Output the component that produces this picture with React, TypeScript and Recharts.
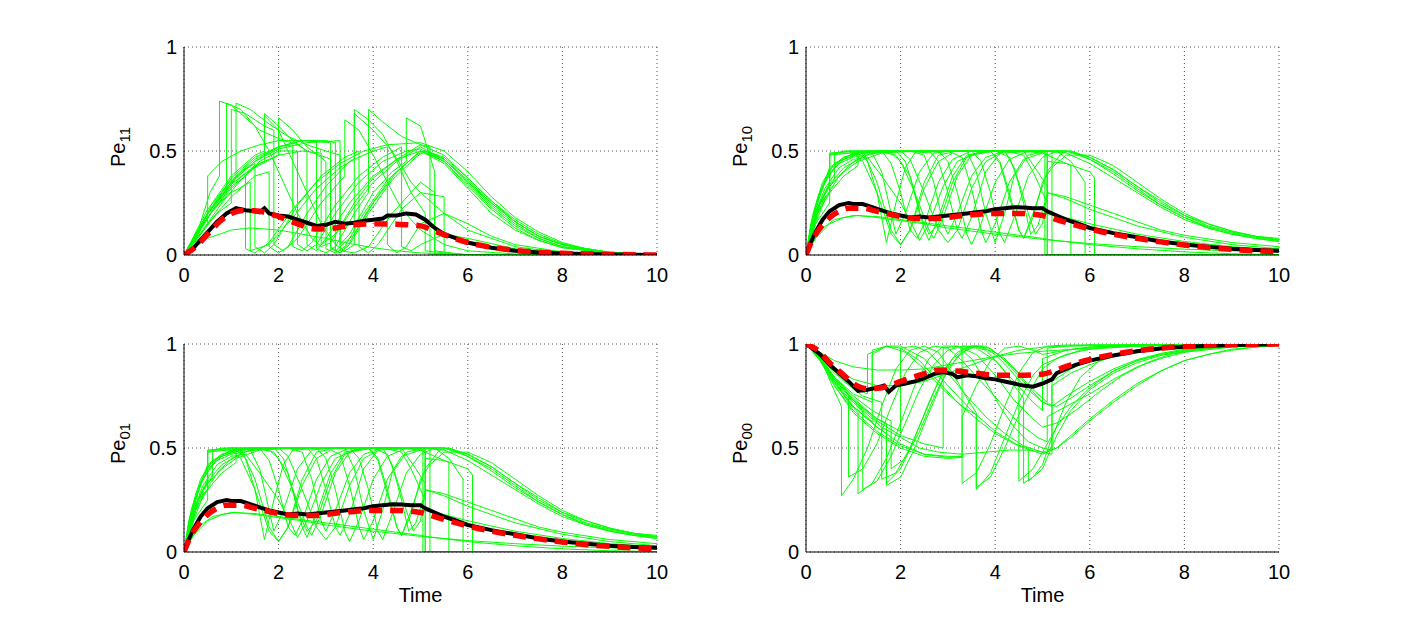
import React from "react";
import { LineChart, Line, XAxis, YAxis, CartesianGrid } from "recharts";

type Run = [number, number][];

const timeTicks = [0, 2, 4, 6, 8, 10];
const probTicks = [0, 0.5, 1];

// sample paths of Pe11
const pe11Runs: Run[] = [
  [[0,0],[0.5,0.2],[1,0.35],[1.5,0.45],[2,0.52],[2.5,0.55],[3,0.55],[3.2,0.54],[3.2,0.02],[3.6,0.1],[4,0.25],[4.5,0.4],[5,0.5],[5.5,0.45],[6,0.33],[6.5,0.22],[7,0.13],[7.5,0.07],[8,0.035],[9,0.008],[10,0]],
  [[0,0],[0.5,0.08],[1,0.12],[1.4,0.13],[2,0.12],[2.5,0.1],[3,0.08],[3.5,0.055],[4,0.035],[4.5,0.02],[5,0.01],[6,0.003],[10,0]],
  [[0,0],[0.3,0.12],[0.55,0.3],[0.75,0.38],[0.75,0.74],[1,0.72],[1.3,0.66],[1.6,0.6],[2,0.56],[2.4,0.53],[2.6,0.5],[2.6,0.05],[2.8,0.02],[3,0.08],[3.5,0.25],[4,0.38],[4.5,0.46],[5,0.5],[5.5,0.44],[6,0.32],[6.5,0.2],[7,0.12],[7.5,0.07],[8,0.035],[9,0.01],[10,0]],
  [[0,0],[0.4,0.15],[0.9,0.3],[0.9,0.73],[1.2,0.7],[1.5,0.62],[1.8,0.5],[2.1,0.35],[2.4,0.2],[2.7,0.08],[2.9,0.04],[3.1,0.06],[3.5,0.2],[4,0.35],[4.5,0.45],[5,0.52],[5.5,0.46],[6,0.35],[6.5,0.24],[7,0.15],[7.5,0.08],[8,0.04],[9,0.01],[10,0]],
  [[0,0],[0.3,0.1],[0.6,0.25],[1,0.38],[1.5,0.48],[1.7,0.5],[1.7,0.67],[2,0.6],[2.3,0.45],[2.6,0.3],[2.9,0.15],[3.2,0.05],[3.4,0.02],[3.6,0.05],[3.6,0.7],[3.9,0.65],[4.2,0.58],[4.5,0.45],[4.8,0.3],[5.1,0.2],[5.1,0.02],[5.5,0.01],[6,0],[10,0]],
  [[0,0],[0.3,0.08],[0.5,0.15],[0.5,0.38],[0.8,0.45],[1.2,0.5],[1.6,0.53],[2,0.55],[2.5,0.55],[3.1,0.54],[3.1,0.04],[3.3,0.01],[3.5,0.05],[3.9,0.2],[4.4,0.36],[4.9,0.47],[5.1,0.5],[5.5,0.47],[6,0.37],[6.5,0.26],[7,0.17],[7.5,0.1],[8,0.055],[8.5,0.028],[9,0.012],[10,0.002]],
  [[0,0],[0.5,0.2],[1,0.3],[1.4,0.35],[1.4,0.02],[1.8,0.05],[2.3,0.18],[2.8,0.32],[3.3,0.42],[3.6,0.46],[3.6,0.68],[4,0.6],[4.4,0.5],[4.8,0.35],[5,0.3],[5.5,0.2],[6,0.12],[7,0.04],[8,0.01],[10,0]],
  [[0,0],[0.5,0.18],[1,0.32],[1.5,0.42],[2,0.48],[2.5,0.5],[2.9,0.49],[2.9,0.05],[3.2,0.1],[3.6,0.25],[4,0.37],[4.5,0.46],[5,0.53],[5.5,0.48],[6,0.37],[6.5,0.26],[7,0.16],[7.5,0.09],[8,0.05],[8.5,0.025],[9,0.01],[10,0.001]],
  [[0,0],[0.4,0.12],[0.8,0.25],[1.2,0.36],[1.6,0.45],[2,0.5],[2.4,0.5],[2.4,0.05],[2.6,0.02],[2.8,0.05],[3.2,0.2],[3.7,0.35],[4.2,0.45],[4.7,0.5],[5,0.51],[5.5,0.45],[6,0.34],[6.5,0.23],[7,0.14],[7.5,0.08],[8,0.04],[9,0.008],[10,0]],
  [[0,0],[0.3,0.1],[0.7,0.25],[1.1,0.37],[1.1,0.73],[1.4,0.7],[1.8,0.63],[2.2,0.57],[2.6,0.53],[3,0.5],[3.3,0.48],[3.3,0.05],[3.5,0.1],[4,0.3],[4.4,0.4],[4.7,0.45],[4.7,0.66],[5,0.62],[5.3,0.4],[5.3,0.02],[6,0],[10,0]],
  [[0,0],[0.5,0.15],[1,0.28],[1.5,0.38],[1.8,0.4],[1.8,0.04],[2,0.01],[2.2,0.04],[2.6,0.2],[3,0.33],[3.5,0.45],[4,0.5],[4.3,0.52],[4.3,0.05],[4.5,0.01],[4.7,0.04],[5,0.15],[5.5,0.2],[6,0.15],[6.5,0.09],[7,0.05],[8,0.015],[9,0.004],[10,0]],
  [[0,0],[0.5,0.2],[1,0.35],[1.5,0.45],[2,0.51],[2.6,0.54],[3.3,0.55],[3.3,0.02],[3.6,0.01],[3.9,0.04],[4.4,0.2],[5,0.35],[5.3,0.3],[5.3,0],[10,0]],
  [[0,0],[0.5,0.22],[1,0.36],[1.5,0.46],[2,0.52],[2.5,0.55],[2.8,0.55],[2.8,0.03],[3,0.01],[3.2,0.04],[3.6,0.2],[3.9,0.3],[3.9,0.7],[4.2,0.64],[4.6,0.57],[5,0.53],[5.2,0.52],[5.2,0],[10,0]],
  [[0,0],[0.5,0.2],[1,0.37],[1.5,0.47],[2,0.52],[2.3,0.53],[2.3,0.04],[2.5,0.02],[2.7,0.06],[3.2,0.24],[3.7,0.38],[4.2,0.47],[4.6,0.52],[4.6,0.04],[4.8,0.02],[5,0.05],[5.5,0.1],[6,0.08],[7,0.03],[8,0.01],[10,0]],
  [[0,0],[0.7,0.2],[1,0.25],[1,0.7],[1.3,0.68],[1.7,0.62],[1.9,0.6],[1.9,0.05],[2.1,0.02],[2.4,0.08],[2.9,0.25],[3.4,0.38],[3.4,0.65],[3.7,0.6],[4,0.48],[4.3,0.35],[4.6,0.22],[5,0.12],[5.5,0.05],[6,0.02],[7,0.005],[10,0]],
  [[0,0],[0.5,0.2],[1,0.34],[1.6,0.44],[2,0.48],[2,0.66],[2.3,0.6],[2.6,0.52],[3,0.45],[3,0.03],[3.2,0.01],[3.4,0.04],[3.8,0.2],[4.3,0.36],[4.8,0.46],[5,0.5],[5.5,0.46],[6,0.35],[6.5,0.25],[7,0.16],[7.5,0.09],[8,0.05],[9,0.012],[10,0]],
  [[0,0],[0.5,0.18],[1,0.33],[1.3,0.38],[1.3,0.03],[1.5,0.01],[1.8,0.06],[2.3,0.22],[2.8,0.35],[3.3,0.44],[3.8,0.5],[4.3,0.53],[5,0.54],[5.5,0.5],[6,0.4],[6.5,0.28],[7,0.18],[7.5,0.11],[8,0.06],[8.5,0.03],[9,0.014],[10,0.002]],
  [[0,0],[0.5,0.2],[1,0.34],[1.5,0.43],[1.7,0.45],[1.7,0.68],[2,0.62],[2.3,0.55],[2.6,0.5],[3,0.47],[3.1,0.46],[3.1,0.03],[3.3,0.01],[3.5,0.06],[3.9,0.22],[4.4,0.38],[4.9,0.48],[5.1,0.5],[5.5,0.46],[6,0.36],[6.5,0.25],[7,0.16],[7.5,0.09],[8,0.05],[9,0.012],[10,0]],
  [[0,0],[0.4,0.16],[0.8,0.3],[1.2,0.4],[1.5,0.44],[1.5,0.04],[1.7,0.01],[1.9,0.05],[2.4,0.24],[2.9,0.38],[3.4,0.47],[3.7,0.5],[3.7,0.04],[3.9,0.01],[4.1,0.05],[4.6,0.22],[5,0.3],[5.5,0.28],[5.5,0],[10,0]],
];

const pe11Mean: Run = [[0,0],[0.15,0.02],[0.3,0.06],[0.5,0.11],[0.7,0.16],[0.9,0.2],[1.1,0.225],[1.3,0.215],[1.5,0.21],[1.6,0.205],[1.7,0.225],[1.8,0.2],[2,0.19],[2.2,0.185],[2.4,0.17],[2.6,0.155],[2.8,0.14],[3,0.145],[3.2,0.16],[3.4,0.15],[3.6,0.155],[3.8,0.165],[4,0.17],[4.2,0.175],[4.3,0.19],[4.5,0.19],[4.7,0.2],[4.9,0.195],[5.1,0.17],[5.3,0.13],[5.5,0.1],[5.7,0.085],[6,0.06],[6.5,0.035],[7,0.02],[7.5,0.012],[8,0.007],[9,0.002],[10,0]];
const pe11Exact: Run = [[0,0],[0.25,0.04],[0.5,0.1],[0.75,0.16],[1,0.2],[1.3,0.215],[1.6,0.21],[2,0.185],[2.4,0.15],[2.8,0.125],[3.2,0.13],[3.6,0.145],[4,0.15],[4.5,0.148],[5,0.14],[5.3,0.115],[5.6,0.09],[6,0.06],[6.5,0.037],[7,0.022],[7.5,0.013],[8,0.008],[9,0.003],[10,0]];

// sample paths of Pe10 (Pe01 behaves the same)
const pe10Runs: Run[] = [
  [[0,0],[0.2,0.08],[0.5,0.15],[0.8,0.18],[1.1,0.19],[1.5,0.18],[2,0.165],[2.5,0.15],[3,0.13],[3.5,0.115],[4,0.1],[4.5,0.088],[5,0.075],[6,0.055],[7,0.04],[8,0.028],[9,0.02],[10,0.014]],
  [[0,0],[0.3,0.12],[0.6,0.17],[1,0.19],[1.5,0.185],[2,0.17],[3,0.14],[4,0.11],[5,0.08],[5.1,0.075],[6,0.05],[7,0.03],[8,0.015],[9,0.006],[10,0.002]],
  [[0,0],[0.1,0.12],[0.2,0.22],[0.3,0.3],[0.5,0.39],[0.7,0.44],[1,0.47],[1.5,0.49],[2,0.5],[5.5,0.5],[6,0.47],[6.5,0.41],[7,0.33],[7.5,0.25],[8,0.19],[8.5,0.14],[9,0.11],[9.5,0.09],[10,0.08]],
  [[0,0],[0.2,0.15],[0.5,0.25],[0.5,0.49],[1,0.5],[1.2,0.5],[1.5,0.35],[1.8,0.12],[2,0.05],[2.2,0.12],[2.5,0.35],[2.8,0.48],[3.2,0.5],[4.6,0.5],[4.9,0.4],[5.1,0.33],[5.1,0],[10,0]],
  [[0,0],[0.15,0.15],[0.3,0.3],[0.5,0.42],[0.8,0.47],[1.1,0.49],[1.3,0.45],[1.5,0.3],[1.7,0.06],[1.9,0.25],[2.1,0.42],[2.3,0.49],[3,0.5],[3.4,0.5],[3.6,0.4],[3.8,0.2],[4,0.06],[4.2,0.2],[4.4,0.38],[4.7,0.48],[5.1,0.5],[5.6,0.5],[6,0.46],[6.5,0.4],[7,0.32],[7.5,0.24],[8,0.18],[8.5,0.135],[9,0.105],[9.5,0.085],[10,0.07]],
  [[0,0],[0.2,0.18],[0.4,0.28],[0.5,0.3],[0.5,0.49],[1,0.49],[1.2,0.45],[1.5,0.3],[1.8,0.1],[2,0.05],[2.2,0.12],[2.5,0.32],[2.8,0.45],[3.1,0.49],[3.3,0.47],[3.5,0.32],[3.7,0.12],[3.8,0.06],[4,0.15],[4.3,0.35],[4.6,0.46],[5,0.49],[5.1,0.49],[5.1,0],[10,0]],
  [[0,0],[0.2,0.2],[0.4,0.32],[0.7,0.42],[1,0.46],[1.3,0.47],[1.6,0.38],[2,0.25],[2.3,0.12],[2.4,0.07],[2.6,0.15],[2.9,0.33],[3.2,0.45],[3.6,0.49],[4,0.5],[4.5,0.5],[5,0.49],[5.6,0.43],[5.6,0],[10,0]],
  [[0,0],[0.1,0.1],[0.3,0.25],[0.5,0.33],[0.8,0.4],[1.1,0.45],[1.6,0.49],[2.2,0.5],[2.5,0.48],[2.7,0.35],[2.9,0.15],[3,0.1],[3.2,0.2],[3.5,0.38],[3.8,0.47],[4.2,0.5],[5.5,0.5],[6,0.46],[6.5,0.39],[7,0.31],[7.5,0.24],[8,0.18],[8.5,0.13],[9,0.1],[9.5,0.08],[10,0.065]],
  [[0,0],[0.2,0.2],[0.5,0.35],[0.5,0.48],[0.9,0.49],[1.3,0.5],[1.8,0.49],[2,0.45],[2.3,0.3],[2.6,0.12],[2.7,0.08],[2.9,0.18],[3.2,0.38],[3.5,0.48],[4,0.5],[4.3,0.47],[4.5,0.35],[4.7,0.2],[4.85,0.1],[5,0.15],[5.1,0.3],[5.5,0.27],[6,0.22],[6.5,0.18],[7,0.14],[8,0.085],[9,0.05],[10,0.03]],
  [[0,0],[0.15,0.2],[0.35,0.35],[0.6,0.44],[1,0.48],[1.5,0.5],[2.8,0.5],[3,0.45],[3.2,0.3],[3.4,0.1],[3.5,0.05],[3.7,0.15],[4,0.35],[4.3,0.46],[4.7,0.5],[5.2,0.5],[5.2,0],[10,0]],
  [[0,0],[0.25,0.2],[0.5,0.3],[0.8,0.38],[1.1,0.43],[1.1,0.49],[1.5,0.5],[1.9,0.48],[2.2,0.38],[2.4,0.2],[2.6,0.1],[2.8,0.15],[3.1,0.35],[3.4,0.47],[3.8,0.5],[5.05,0.5],[5.05,0.2],[5.5,0.18],[6,0.15],[7,0.1],[8,0.065],[9,0.04],[10,0.025]],
  [[0,0],[0.2,0.22],[0.4,0.35],[0.7,0.45],[1,0.49],[1.4,0.5],[3.5,0.5],[3.7,0.45],[3.9,0.3],[4.1,0.1],[4.2,0.06],[4.4,0.18],[4.7,0.38],[5,0.47],[5.3,0.5],[5.6,0.45],[5.9,0.35],[5.9,0],[10,0]],
  [[0,0],[0.3,0.25],[0.5,0.3],[0.5,0.48],[0.8,0.5],[2,0.5],[2.2,0.46],[2.5,0.3],[2.8,0.12],[3,0.06],[3.2,0.12],[3.5,0.32],[3.8,0.45],[4.2,0.5],[4.6,0.48],[4.8,0.4],[5,0.3],[5.1,0.25],[5.1,0.45],[5.5,0.44],[6,0.4],[6.1,0.37],[6.1,0],[10,0]],
  [[0,0],[0.2,0.15],[0.4,0.27],[0.7,0.38],[1,0.45],[1.4,0.49],[1.6,0.5],[1.8,0.44],[2,0.3],[2.2,0.12],[2.35,0.08],[2.5,0.15],[2.8,0.35],[3.1,0.46],[3.5,0.5],[5.1,0.5],[5.1,0.3],[5.5,0.28],[6,0.24],[6.5,0.2],[7,0.16],[7.5,0.12],[8,0.095],[9,0.06],[10,0.04]],
  [[0,0],[0.1,0.15],[0.3,0.3],[0.5,0.4],[0.8,0.46],[1.2,0.49],[1.6,0.5],[3.9,0.5],[4.1,0.45],[4.3,0.3],[4.5,0.12],[4.6,0.08],[4.8,0.18],[5,0.35],[5.2,0.42],[5.5,0.48],[6,0.48],[6.5,0.43],[7,0.35],[7.5,0.27],[8,0.2],[8.5,0.15],[9,0.115],[9.5,0.09],[10,0.075]],
  [[0,0],[0.2,0.2],[0.5,0.34],[0.8,0.42],[1.2,0.47],[1.2,0.49],[2.6,0.5],[2.8,0.45],[3,0.3],[3.2,0.12],[3.3,0.08],[3.5,0.18],[3.8,0.4],[4.1,0.49],[5,0.5],[5.5,0.49],[6,0.44],[6.5,0.37],[7,0.3],[7.5,0.23],[8,0.17],[8.5,0.13],[9,0.1],[9.5,0.08],[10,0.065]],
  [[0,0],[0.1,0.14],[0.25,0.28],[0.5,0.41],[0.8,0.47],[1.2,0.5],[1.9,0.5],[2.1,0.45],[2.3,0.3],[2.5,0.12],[2.6,0.07],[2.8,0.18],[3.1,0.38],[3.4,0.48],[3.8,0.5],[4.2,0.5],[4.4,0.42],[4.6,0.25],[4.75,0.1],[4.9,0.14],[5.05,0.25],[5.05,0],[10,0]],
  [[0,0],[0.2,0.2],[0.4,0.3],[0.6,0.36],[0.6,0.49],[1,0.5],[1.4,0.49],[1.6,0.4],[1.8,0.2],[1.9,0.1],[2.1,0.2],[2.4,0.4],[2.7,0.49],[3.1,0.5],[3.9,0.5],[4.1,0.44],[4.3,0.28],[4.5,0.12],[4.6,0.08],[4.8,0.2],[5.1,0.4],[5.4,0.49],[5.6,0.5],[6,0.47],[6.5,0.41],[7,0.33],[7.5,0.26],[8,0.19],[8.5,0.15],[9,0.115],[9.5,0.09],[10,0.072]],
];

const pe10Mean: Run = [[0,0],[0.1,0.06],[0.2,0.11],[0.35,0.17],[0.5,0.21],[0.7,0.24],[0.9,0.25],[1,0.245],[1.2,0.245],[1.4,0.23],[1.6,0.215],[1.8,0.2],[2,0.19],[2.2,0.18],[2.4,0.185],[2.6,0.18],[2.8,0.185],[3,0.19],[3.2,0.195],[3.4,0.2],[3.6,0.205],[3.8,0.21],[4,0.22],[4.2,0.225],[4.4,0.23],[4.6,0.228],[4.8,0.225],[5,0.225],[5.1,0.21],[5.3,0.19],[5.5,0.17],[5.7,0.155],[6,0.13],[6.5,0.105],[7,0.085],[7.5,0.065],[8,0.05],[8.5,0.04],[9,0.03],[9.5,0.024],[10,0.02]];
const pe10Exact: Run = [[0,0],[0.15,0.08],[0.3,0.13],[0.5,0.18],[0.7,0.21],[0.9,0.225],[1.2,0.225],[1.5,0.21],[1.8,0.195],[2.1,0.18],[2.4,0.175],[2.7,0.175],[3,0.18],[3.3,0.19],[3.6,0.195],[4,0.2],[4.5,0.2],[5,0.19],[5.3,0.17],[5.6,0.15],[6,0.125],[6.5,0.1],[7,0.08],[7.5,0.063],[8,0.048],[8.5,0.036],[9,0.027],[9.5,0.02],[10,0.015]];

const pe01Runs = pe10Runs;
const pe01Mean = pe10Mean;
const pe01Exact = pe10Exact;

// sample paths of Pe00
const pe00Runs: Run[] = [
  [[0,1],[0.3,0.96],[0.6,0.92],[1,0.89],[1.5,0.875],[2,0.875],[2.5,0.88],[3,0.9],[3.5,0.92],[4,0.94],[4.5,0.955],[5,0.965],[6,0.98],[7,0.99],[8,0.995],[10,1]],
  [[0,1],[0.3,0.94],[0.6,0.84],[1,0.72],[1.5,0.6],[2,0.52],[2.5,0.47],[3,0.455],[3.3,0.46],[3.3,0.65],[3.6,0.8],[3.9,0.92],[4.2,0.98],[4.5,0.99],[4.8,0.97],[5,0.95],[5.5,0.97],[6,0.985],[7,0.995],[10,1]],
  [[0,1],[0.3,0.94],[0.55,0.8],[0.75,0.7],[0.75,0.27],[1,0.35],[1.3,0.5],[1.6,0.7],[1.9,0.88],[2.2,0.97],[2.5,0.99],[2.8,0.96],[3.1,0.86],[3.4,0.74],[3.6,0.67],[3.6,0.3],[3.9,0.38],[4.2,0.55],[4.5,0.72],[4.8,0.85],[5,0.9],[5.5,0.95],[6,0.975],[7,0.99],[10,1]],
  [[0,1],[0.3,0.93],[0.6,0.82],[0.9,0.72],[1.1,0.67],[1.1,0.28],[1.4,0.33],[1.7,0.45],[2,0.62],[2.3,0.8],[2.6,0.93],[2.9,0.99],[3.2,0.99],[3.5,0.93],[3.8,0.82],[4.1,0.7],[4.4,0.6],[4.7,0.53],[5,0.5],[5.2,0.49],[5.2,0.82],[5.6,0.88],[6,0.92],[6.5,0.95],[7,0.97],[8,0.99],[10,1]],
  [[0,1],[0.3,0.93],[0.6,0.84],[1,0.76],[1.4,0.72],[1.4,0.95],[1.7,0.99],[2,0.99],[2.5,0.93],[3,0.8],[3.5,0.68],[4,0.58],[4.5,0.51],[5,0.47],[5.3,0.5],[5.6,0.55],[6,0.63],[6.5,0.72],[7,0.8],[7.5,0.87],[8,0.92],[8.5,0.95],[9,0.975],[10,0.995]],
  [[0,1],[0.3,0.93],[0.6,0.83],[1,0.73],[1.5,0.64],[1.7,0.62],[1.7,0.33],[2,0.4],[2.3,0.55],[2.6,0.72],[2.9,0.87],[3.2,0.96],[3.5,0.99],[3.8,0.97],[4.1,0.9],[4.4,0.8],[4.6,0.74],[4.6,0.33],[4.8,0.36],[5,0.42],[5.2,0.55],[5.5,0.72],[5.8,0.84],[6.2,0.92],[6.7,0.96],[7.5,0.985],[8.5,0.995],[10,1]],
  [[0,1],[0.3,0.93],[0.6,0.82],[0.9,0.74],[1.2,0.68],[1.2,0.3],[1.5,0.34],[1.8,0.46],[2.1,0.62],[2.4,0.78],[2.7,0.9],[3,0.97],[3.3,0.99],[3.6,0.98],[4,0.92],[4.4,0.82],[4.8,0.72],[5,0.68],[5,0.93],[5.5,0.97],[6,0.985],[7,0.995],[10,1]],
  [[0,1],[0.3,0.92],[0.6,0.8],[1,0.68],[1.5,0.58],[2,0.51],[2.5,0.47],[3,0.46],[3.3,0.46],[3.3,0.33],[3.6,0.38],[3.9,0.52],[4.2,0.7],[4.5,0.86],[4.8,0.96],[5.1,0.99],[5.5,0.995],[10,1]],
  [[0,1],[0.4,0.92],[0.8,0.82],[1.2,0.75],[1.6,0.72],[1.6,0.35],[1.9,0.38],[2.2,0.5],[2.5,0.66],[2.8,0.82],[3.1,0.93],[3.4,0.985],[3.7,0.99],[4,0.95],[4.3,0.88],[4.6,0.8],[5,0.72],[5.2,0.7],[5.5,0.75],[6,0.82],[6.5,0.88],[7,0.925],[7.5,0.955],[8,0.975],[9,0.992],[10,1]],
  [[0,1],[0.3,0.93],[0.6,0.84],[1,0.74],[1.5,0.64],[2,0.58],[2,0.98],[2.3,0.99],[2.6,0.96],[3,0.86],[3.4,0.75],[3.8,0.65],[4.2,0.57],[4.6,0.51],[5,0.48],[5.2,0.47],[5.2,0.8],[5.6,0.86],[6,0.9],[6.5,0.94],[7,0.965],[8,0.99],[10,1]],
  [[0,1],[0.3,0.93],[0.6,0.83],[0.9,0.75],[0.9,0.36],[1.2,0.4],[1.5,0.52],[1.8,0.7],[2.1,0.86],[2.4,0.96],[2.7,0.99],[3,0.98],[3.3,0.92],[3.7,0.82],[4.1,0.72],[4.5,0.62],[4.9,0.55],[5.1,0.53],[5.1,0.65],[5.5,0.7],[6,0.76],[6.5,0.83],[7,0.89],[7.5,0.93],[8,0.96],[9,0.985],[10,0.997]],
  [[0,1],[0.3,0.92],[0.6,0.81],[1,0.7],[1.5,0.6],[1.7,0.57],[1.7,0.32],[2,0.36],[2.3,0.5],[2.6,0.67],[2.9,0.83],[3.2,0.94],[3.5,0.99],[3.8,0.99],[4.2,0.93],[4.5,0.86],[4.5,0.34],[4.8,0.4],[5,0.48],[5.3,0.6],[5.6,0.7],[6,0.79],[6.5,0.87],[7,0.92],[7.5,0.95],[8,0.97],[9,0.99],[10,1]],
  [[0,1],[0.3,0.93],[0.6,0.83],[1,0.73],[1.5,0.63],[2,0.56],[2.5,0.52],[2.9,0.5],[2.9,0.98],[3.2,0.99],[3.6,0.95],[4,0.85],[4.4,0.73],[4.8,0.64],[5,0.6],[5.3,0.62],[5.7,0.68],[6.2,0.77],[6.7,0.85],[7.2,0.91],[7.7,0.95],[8.2,0.97],[9,0.99],[10,1]],
  [[0,1],[0.3,0.94],[0.6,0.86],[1,0.79],[1.3,0.76],[1.3,0.95],[1.7,0.99],[2.1,0.96],[2.5,0.88],[2.9,0.78],[3.3,0.7],[3.6,0.66],[3.6,0.31],[3.9,0.36],[4.2,0.5],[4.5,0.66],[4.8,0.8],[5,0.88],[5.3,0.93],[5.8,0.97],[6.5,0.99],[10,1]],
  [[0,1],[0.4,0.9],[0.8,0.78],[1.2,0.68],[1.6,0.6],[2,0.55],[2.4,0.5],[2.8,0.48],[3.3,0.47],[3.8,0.48],[4.3,0.49],[4.7,0.49],[5,0.48],[5.3,0.5],[5.6,0.56],[6,0.64],[6.5,0.73],[7,0.81],[7.5,0.87],[8,0.92],[8.5,0.95],[9,0.97],[9.5,0.985],[10,0.993]],
  [[0,1],[0.5,0.9],[1,0.83],[1.5,0.8],[2,0.8],[2.5,0.82],[3,0.86],[3.5,0.9],[4,0.94],[4.5,0.97],[5,0.985],[5.5,0.99],[6,0.995],[10,1]],
  [[0,1],[0.3,0.93],[0.6,0.82],[1,0.7],[1.4,0.62],[1.4,0.97],[1.7,0.99],[2,0.98],[2.4,0.92],[2.8,0.82],[3.2,0.72],[3.6,0.64],[4,0.57],[4.4,0.52],[4.7,0.5],[4.7,0.34],[5,0.4],[5.3,0.56],[5.6,0.68],[6,0.78],[6.5,0.86],[7,0.91],[7.5,0.945],[8,0.965],[9,0.99],[10,1]],
  [[0,1],[0.3,0.92],[0.6,0.8],[1,0.67],[1.5,0.57],[2,0.5],[2.5,0.46],[3,0.45],[3.3,0.455],[3.3,0.99],[3.6,0.99],[4,0.96],[4.4,0.88],[4.8,0.78],[5.1,0.72],[5.1,0.98],[5.5,0.99],[10,1]],
  [[0,1],[0.3,0.93],[0.6,0.84],[1,0.75],[1.4,0.68],[1.8,0.63],[1.8,0.4],[2.1,0.45],[2.4,0.58],[2.7,0.74],[3,0.88],[3.3,0.96],[3.6,0.99],[3.9,0.98],[4.2,0.92],[4.6,0.82],[5,0.72],[5.3,0.7],[5.6,0.74],[6,0.8],[6.5,0.87],[7,0.92],[7.5,0.95],[8,0.97],[9,0.99],[10,1]],
];

const pe00Mean: Run = [[0,1],[0.1,0.985],[0.3,0.95],[0.5,0.9],[0.7,0.86],[0.9,0.82],[1.1,0.775],[1.3,0.78],[1.5,0.79],[1.65,0.8],[1.75,0.77],[1.9,0.8],[2.1,0.81],[2.3,0.82],[2.5,0.835],[2.7,0.855],[2.9,0.865],[3.1,0.855],[3.2,0.84],[3.4,0.85],[3.6,0.845],[3.8,0.835],[4,0.83],[4.2,0.82],[4.4,0.81],[4.6,0.8],[4.8,0.795],[5,0.81],[5.2,0.83],[5.3,0.86],[5.5,0.88],[5.7,0.9],[6,0.92],[6.5,0.945],[7,0.965],[7.5,0.978],[8,0.987],[9,0.995],[10,1]];
const pe00Exact: Run = [[0,1],[0.25,0.97],[0.5,0.91],[0.75,0.86],[1,0.81],[1.3,0.785],[1.6,0.79],[2,0.82],[2.4,0.85],[2.8,0.875],[3.2,0.87],[3.6,0.86],[4,0.85],[4.5,0.85],[5,0.855],[5.3,0.875],[5.6,0.9],[6,0.925],[6.5,0.95],[7,0.968],[7.5,0.98],[8,0.988],[9,0.996],[10,1]];

const FONT = '"Liberation Sans", Arial, Helvetica, sans-serif';
const GREEN = "#00ff00";

const toPoints = (run: Run) => run.map(([t, v]) => ({ t, v }));

// chart box: plot area starts at (100, 20) and is 473 x 208
const CHART_W = 598;
const CHART_H = 288;

function PeLabel({ sub }: { sub: string }) {
  return (
    <text
      x={41}
      y={140}
      transform="rotate(-90 41 140)"
      fontFamily={FONT}
      fontSize={20}
      fill="#000"
    >
      Pe
      <tspan fontSize={15} dy={5}>
        {sub}
      </tspan>
    </text>
  );
}

function TimeLabel() {
  return (
    <text x={336.5} y={278} textAnchor="middle" fontFamily={FONT} fontSize={20} fill="#000">
      Time
    </text>
  );
}

type PanelProps = {
  left: number;
  top: number;
  sub: string;
  runs: Run[];
  mean: Run;
  exact: Run;
  showTime?: boolean;
};

function Panel({ left, top, sub, runs, mean, exact, showTime }: PanelProps) {
  return (
    <div style={{ position: "absolute", left, top }}>
      <LineChart
        width={CHART_W}
        height={CHART_H}
        margin={{ top: 20, right: 25, bottom: 0, left: 40 }}
      >
        <CartesianGrid stroke="#555" strokeDasharray="1 3" />
        <XAxis
          dataKey="t"
          type="number"
          domain={[0, 10]}
          ticks={timeTicks}
          height={60}
          tickLine={false}
          tickSize={6}
          tickMargin={7}
          axisLine={{ stroke: "#000" }}
          tick={{ fontSize: 20, fill: "#000", fontFamily: FONT }}
          allowDataOverflow
          label={showTime ? <TimeLabel /> : undefined}
        />
        <YAxis
          dataKey="v"
          type="number"
          domain={[0, 1]}
          ticks={probTicks}
          width={60}
          tickLine={false}
          tickSize={5}
          tickMargin={2}
          axisLine={{ stroke: "#000" }}
          tick={{ fontSize: 20, fill: "#000", fontFamily: FONT }}
          allowDataOverflow
          label={<PeLabel sub={sub} />}
        />
        {runs.map((run, i) => (
          <Line
            key={i}
            data={toPoints(run)}
            dataKey="v"
            type="linear"
            stroke={GREEN}
            strokeWidth={1}
            dot={false}
            activeDot={false}
            isAnimationActive={false}
          />
        ))}
        <Line
          data={toPoints(mean)}
          dataKey="v"
          type="linear"
          stroke="#000"
          strokeWidth={4}
          dot={false}
          activeDot={false}
          isAnimationActive={false}
        />
        <Line
          data={toPoints(exact)}
          dataKey="v"
          type="monotone"
          stroke="#ff0000"
          strokeWidth={5.5}
          strokeDasharray="13 8"
          dot={false}
          activeDot={false}
          isAnimationActive={false}
        />
      </LineChart>
    </div>
  );
}

export default function App() {
  return (
    <div
      style={{
        position: "absolute",
        left: 0,
        top: 0,
        width: 1413,
        height: 628,
        background: "#fff",
        overflow: "hidden",
      }}
    >
      <Panel left={84} top={27} sub="11" runs={pe11Runs} mean={pe11Mean} exact={pe11Exact} />
      <Panel left={706} top={27} sub="10" runs={pe10Runs} mean={pe10Mean} exact={pe10Exact} />
      <Panel left={84} top={324} sub="01" runs={pe01Runs} mean={pe01Mean} exact={pe01Exact} showTime />
      <Panel left={706} top={324} sub="00" runs={pe00Runs} mean={pe00Mean} exact={pe00Exact} showTime />
    </div>
  );
}
